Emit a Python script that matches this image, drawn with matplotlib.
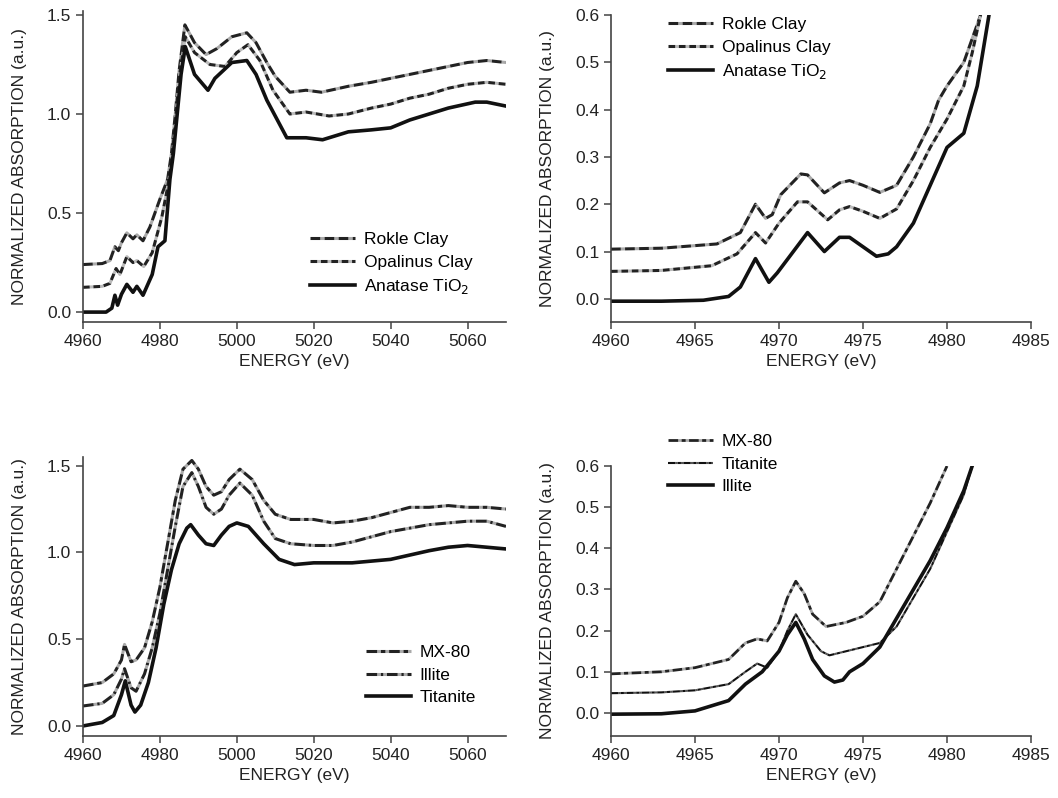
import matplotlib
matplotlib.use('Agg')
import matplotlib.pyplot as plt

plt.rcParams['font.family'] = ['Liberation Sans', 'DejaVu Sans']
plt.rcParams['font.size'] = 12.5

# --- panel A: wide range, clays vs anatase ---
a_energy_rk = [4960, 4965, 4967, 4968.3, 4969.2, 4970, 4971.4, 4973, 4974, 4975.6, 4977.4, 4980, 4982,
               4983, 4984, 4985, 4986.5, 4989, 4992, 4994.8, 4998.7, 5002.6, 5005, 5007.8, 5010,
               5013.8, 5018, 5022, 5029, 5035, 5040, 5045, 5050, 5055, 5060, 5065, 5070]
a_rokle = [0.24, 0.245, 0.26, 0.33, 0.31, 0.35, 0.40, 0.37, 0.39, 0.36, 0.43, 0.57, 0.67,
           0.80, 1.00, 1.22, 1.45, 1.36, 1.30, 1.33, 1.39, 1.41, 1.36, 1.26, 1.19,
           1.11, 1.12, 1.11, 1.14, 1.16, 1.18, 1.20, 1.22, 1.24, 1.26, 1.27, 1.26]
a_energy_op = [4960, 4965, 4967, 4968.6, 4969.6, 4971.4, 4973, 4974, 4975.8, 4978, 4980.5, 4982,
               4983, 4984, 4985, 4986.6, 4989, 4993, 4996.9, 5000, 5002.9, 5006, 5009.4, 5013.8,
               5018, 5024, 5029, 5035, 5040, 5045, 5050, 5055, 5060, 5065, 5070]
a_opalinus = [0.125, 0.13, 0.145, 0.22, 0.19, 0.28, 0.25, 0.26, 0.23, 0.30, 0.48, 0.63,
              0.75, 0.95, 1.18, 1.39, 1.31, 1.25, 1.24, 1.31, 1.35, 1.27, 1.12, 1.00,
              1.01, 0.99, 1.00, 1.03, 1.05, 1.08, 1.10, 1.13, 1.15, 1.16, 1.15]
a_energy_an = [4960, 4966, 4967.5, 4968.3, 4969, 4970, 4971.4, 4973, 4974, 4975.6, 4978, 4979.5,
               4981.3, 4982.6, 4983.5, 4984.5, 4985.5, 4986.6, 4989, 4992.5, 4994.3, 4998.7,
               5002.6, 5005, 5007.8, 5013, 5018, 5022.3, 5029, 5035, 5040, 5045, 5050, 5055,
               5062, 5065, 5070]
a_anatase = [0.0, 0.0, 0.02, 0.085, 0.035, 0.09, 0.14, 0.10, 0.13, 0.085, 0.19, 0.33,
             0.36, 0.67, 0.80, 1.00, 1.20, 1.34, 1.20, 1.12, 1.18, 1.26,
             1.27, 1.20, 1.07, 0.88, 0.88, 0.87, 0.91, 0.92, 0.93, 0.97, 1.00, 1.03,
             1.06, 1.06, 1.04]

# --- panel B: pre-edge, clays vs anatase ---
b_energy_rk = [4960, 4963, 4966.3, 4967.7, 4968.6, 4969.2, 4969.6, 4970.1, 4971.3, 4971.7, 4972.7,
               4973.6, 4974.2, 4975, 4976, 4977, 4978, 4979, 4979.5, 4980, 4981, 4981.5, 4982]
b_rokle = [0.105, 0.107, 0.116, 0.14, 0.20, 0.17, 0.178, 0.22, 0.264, 0.262, 0.224,
           0.245, 0.25, 0.24, 0.225, 0.24, 0.30, 0.37, 0.42, 0.45, 0.50, 0.55, 0.60]
b_energy_op = [4960, 4963, 4966, 4967.5, 4968.6, 4969.2, 4970, 4971.1, 4971.7, 4972.9, 4973.6,
               4974.2, 4975, 4976, 4977, 4978, 4979, 4980, 4981, 4981.5, 4982]
b_opalinus = [0.058, 0.06, 0.07, 0.095, 0.14, 0.118, 0.16, 0.205, 0.205, 0.167, 0.188,
              0.195, 0.185, 0.17, 0.19, 0.25, 0.32, 0.38, 0.45, 0.52, 0.60]
b_energy_an = [4960, 4963, 4965.5, 4967, 4967.7, 4968.6, 4969.4, 4969.9, 4971.7, 4972.7, 4973.6,
               4974.2, 4975, 4975.8, 4976.5, 4977, 4978, 4979, 4980, 4981, 4981.8, 4982.5]
b_anatase = [-0.005, -0.005, -0.003, 0.005, 0.025, 0.085, 0.035, 0.055, 0.14, 0.10, 0.13,
             0.13, 0.11, 0.09, 0.095, 0.11, 0.16, 0.24, 0.32, 0.35, 0.45, 0.60]

# --- panel C: wide range, MX-80 / Illite / Titanite ---
c_energy = [4960, 4965, 4968, 4970, 4970.8, 4972.5, 4973.8, 4976, 4978, 4980, 4982, 4984, 4986,
            4988.3, 4990, 4992, 4994, 4996, 4998, 5000.8, 5004, 5007, 5010, 5014, 5020, 5025,
            5030, 5035, 5040, 5045, 5050, 5055, 5060, 5065, 5070]
c_mx80 = [0.23, 0.25, 0.30, 0.38, 0.47, 0.37, 0.38, 0.45, 0.60, 0.80, 1.05, 1.30, 1.48,
          1.53, 1.48, 1.38, 1.33, 1.35, 1.42, 1.48, 1.42, 1.30, 1.22, 1.19, 1.19, 1.17,
          1.18, 1.20, 1.23, 1.26, 1.26, 1.27, 1.26, 1.26, 1.25]
c_illite = [0.115, 0.13, 0.18, 0.27, 0.33, 0.22, 0.20, 0.30, 0.45, 0.65, 0.90, 1.15, 1.38,
            1.46, 1.38, 1.26, 1.22, 1.25, 1.33, 1.40, 1.33, 1.18, 1.08, 1.05, 1.04, 1.04,
            1.06, 1.09, 1.12, 1.14, 1.16, 1.17, 1.18, 1.18, 1.15]
c_energy_ti = [4960, 4965, 4968, 4970, 4971, 4972.5, 4973.5, 4975, 4977, 4979, 4981, 4983, 4985,
               4987, 4988, 4990, 4992, 4994, 4996, 4998, 5000, 5003, 5007, 5011, 5015, 5020,
               5030, 5040, 5050, 5055, 5060, 5070]
c_titanite = [0.0, 0.02, 0.06, 0.18, 0.26, 0.12, 0.08, 0.12, 0.25, 0.45, 0.70, 0.90, 1.05,
              1.14, 1.16, 1.10, 1.05, 1.04, 1.10, 1.15, 1.17, 1.15, 1.05, 0.96, 0.93, 0.94,
              0.94, 0.96, 1.01, 1.03, 1.04, 1.02]

# --- panel D: pre-edge, MX-80 / Titanite / Illite ---
d_energy_mx = [4960, 4963, 4965, 4967, 4968, 4968.7, 4969.3, 4970, 4970.5, 4971, 4971.5, 4972,
               4972.8, 4974, 4975, 4976, 4977, 4978, 4979, 4980]
d_mx80 = [0.095, 0.10, 0.11, 0.13, 0.17, 0.18, 0.175, 0.22, 0.28, 0.32, 0.29, 0.24,
          0.21, 0.22, 0.235, 0.27, 0.35, 0.43, 0.51, 0.60]
d_energy_lo = [4960, 4963, 4965, 4967, 4968, 4968.7, 4969.3, 4970, 4970.5, 4971, 4971.7, 4972.5,
               4973, 4974, 4975, 4976, 4977, 4978, 4979, 4980, 4981, 4981.5]
d_titanite = [0.048, 0.05, 0.055, 0.07, 0.10, 0.12, 0.11, 0.15, 0.20, 0.24, 0.19, 0.15,
              0.14, 0.15, 0.16, 0.17, 0.21, 0.28, 0.35, 0.44, 0.53, 0.60]
d_energy_il = [4960, 4963, 4965, 4967, 4968, 4969, 4970, 4970.5, 4971, 4971.5, 4972, 4972.7,
               4973.3, 4973.8, 4974.2, 4975, 4976, 4977, 4978, 4979, 4980, 4981, 4981.5]
d_illite = [-0.003, -0.002, 0.005, 0.03, 0.07, 0.10, 0.15, 0.19, 0.22, 0.18, 0.13, 0.09,
            0.075, 0.08, 0.10, 0.12, 0.16, 0.23, 0.30, 0.37, 0.45, 0.54, 0.60]

W, H = 1058, 798


def box(l, r, b, t):
    return [l / W, 1 - b / H, (r - l) / W, (b - t) / H]


def style_axes(ax, xlim, ylim, xticks, yticks, yfmt):
    ax.set_xlim(*xlim)
    ax.set_ylim(*ylim)
    ax.set_xticks(xticks)
    ax.set_yticks(yticks)
    ax.set_yticklabels([yfmt % v for v in yticks])
    for s in ['top', 'right']:
        ax.spines[s].set_visible(False)
    for s in ['left', 'bottom']:
        ax.spines[s].set_linewidth(1.2)
        ax.spines[s].set_color('#444444')
    ax.tick_params(direction='out', length=5, width=1.1, color='#444444', labelcolor='#222222')
    ax.set_xlabel('ENERGY (eV)', color='#222222')
    ax.set_ylabel('NORMALIZED ABSORPTION (a.u.)', color='#222222')
    # label sits further left than default, about 18 px from the panel edge
    ax.yaxis.set_label_coords(-0.133, 0.5)


def add_legend(ax, x, y):
    ax.legend(loc='upper left', bbox_to_anchor=(x / W, 1 - y / H), bbox_transform=fig.transFigure,
              frameon=False, borderpad=0, borderaxespad=0, handlelength=2.6,
              handletextpad=0.5, labelspacing=0.42)


fig = plt.figure(figsize=(W / 100, H / 100), dpi=100)

ax1 = fig.add_axes(box(83, 506, 322, 11))
ax2 = fig.add_axes(box(611, 1031, 322, 15))
ax3 = fig.add_axes(box(83, 506, 736, 457))
ax4 = fig.add_axes(box(611, 1031, 736, 466))

dash_long = (3.2, 1.4)
dash_short = (2.2, 1.2)

ax1.plot(a_energy_rk, a_rokle, color='#222222', lw=2.2, ls=(0, dash_long), gapcolor='#aaaaaa', label='Rokle Clay')
ax1.plot(a_energy_op, a_opalinus, color='#222222', lw=2.2, ls=(0, dash_short), gapcolor='#bbbbbb', label='Opalinus Clay')
ax1.plot(a_energy_an, a_anatase, color='#111111', lw=2.6, label='Anatase TiO$_2$')
style_axes(ax1, (4960, 5070), (-0.05, 1.52), [4960, 4980, 5000, 5020, 5040, 5060], [0.0, 0.5, 1.0, 1.5], '%.1f')
add_legend(ax1, 310, 232)

ax2.plot(b_energy_rk, b_rokle, color='#222222', lw=2.2, ls=(0, dash_long), gapcolor='#aaaaaa', label='Rokle Clay')
ax2.plot(b_energy_op, b_opalinus, color='#222222', lw=2.2, ls=(0, dash_short), gapcolor='#bbbbbb', label='Opalinus Clay')
ax2.plot(b_energy_an, b_anatase, color='#111111', lw=2.6, label='Anatase TiO$_2$')
style_axes(ax2, (4960, 4985), (-0.049, 0.6), [4960, 4965, 4970, 4975, 4980, 4985],
           [0.0, 0.1, 0.2, 0.3, 0.4, 0.5, 0.6], '%.1f')
add_legend(ax2, 668, 17)

ax3.plot(c_energy, c_mx80, color='#222222', lw=2.2, ls=(0, (3.5, 1.2, 1.5, 1.2)), gapcolor='#aaaaaa', label='MX-80')
ax3.plot(c_energy, c_illite, color='#222222', lw=2.2, ls=(0, (3.5, 1.2, 0.8, 1.2)), gapcolor='#aaaaaa', label='Illite')
ax3.plot(c_energy_ti, c_titanite, color='#111111', lw=2.6, label='Titanite')
style_axes(ax3, (4960, 5070), (-0.058, 1.55), [4960, 4980, 5000, 5020, 5040, 5060], [0.0, 0.5, 1.0, 1.5], '%.1f')
add_legend(ax3, 366, 645)

ax4.plot(d_energy_mx, d_mx80, color='#222222', lw=2.0, ls=(0, (3.5, 1.2, 1.5, 1.2)), gapcolor='#aaaaaa', label='MX-80')
ax4.plot(d_energy_lo, d_titanite, color='#111111', lw=1.5, ls=(0, (3.5, 1.2, 1.5, 1.2)), gapcolor='#555555', label='Titanite')
ax4.plot(d_energy_il, d_illite, color='#111111', lw=2.6, label='Illite')
style_axes(ax4, (4960, 4985), (-0.056, 0.6), [4960, 4965, 4970, 4975, 4980, 4985],
           [0.0, 0.1, 0.2, 0.3, 0.4, 0.5, 0.6], '%.1f')
add_legend(ax4, 668, 434)

fig.savefig('out.png', dpi=100)
